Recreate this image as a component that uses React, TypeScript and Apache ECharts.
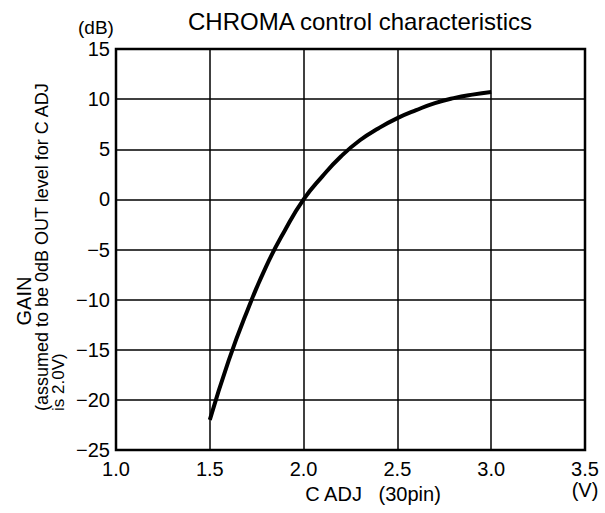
import React, { useEffect, useRef } from "react";
import * as echarts from "echarts";

const xValues = [1.5, 1.6, 1.7, 1.8, 1.9, 2.0, 2.1, 2.2, 2.3, 2.4, 2.5, 2.6, 2.7, 2.8, 2.9, 3.0];
const gainValues = [-22, -16.1, -11.1, -6.7, -3.1, 0, 2.3, 4.3, 5.9, 7.1, 8.1, 8.9, 9.6, 10.1, 10.45, 10.7];
const titleText = "CHROMA control characteristics";
const xName = "C ADJ   (30pin)";
const yNameLines = ["GAIN", "(assumed to be 0dB OUT level for C ADJ", "is 2.0V)"];

const FONT = "'Liberation Sans', Arial, Helvetica, sans-serif";

export default function App() {
  const ref = useRef<HTMLDivElement>(null);
  useEffect(() => {
    if (!ref.current) return;
    const chart = echarts.init(ref.current, null, { renderer: "svg" });
    chart.setOption({
      animation: false,
      backgroundColor: "#fff",
      title: {
        text: titleText,
        left: 183,
        top: 4,
        textStyle: { fontFamily: FONT, fontSize: 24, fontWeight: "normal", color: "#000" },
      },
      grid: {
        left: 116,
        right: 20,
        top: 49,
        bottom: 63,
        show: true,
        borderColor: "#000",
        borderWidth: 2.5,
        containLabel: false,
      },
      xAxis: {
        type: "value",
        min: 1,
        max: 3.5,
        interval: 0.5,
        axisLine: { show: false },
        axisTick: { show: false },
        splitLine: { show: true, lineStyle: { color: "#000", width: 1.5 } },
        axisLabel: {
          color: "#000",
          fontFamily: FONT,
          fontSize: 20,
          margin: 8,
          lineHeight: 21,
          formatter: (v: number) => (v === 3.5 ? "3.5\n(V)" : v.toFixed(1)),
        },
      },
      yAxis: {
        type: "value",
        min: -25,
        max: 15,
        interval: 5,
        axisLine: { show: false },
        axisTick: { show: false },
        splitLine: { show: true, lineStyle: { color: "#000", width: 1.5 } },
        axisLabel: {
          color: "#000",
          fontFamily: FONT,
          fontSize: 20,
          margin: 6,
          formatter: (v: number) => (v < 0 ? "\u2212" + Math.abs(v) : String(v)),
        },
      },
      series: [
        {
          type: "line",
          data: xValues.map((x, i) => [x, gainValues[i]]),
          smooth: true,
          symbol: "none",
          lineStyle: { color: "#000", width: 4 },
        },
      ],
      graphic: [
        {
          type: "text",
          left: 78,
          top: 18,
          style: { text: "(dB)", font: `19px ${FONT}`, fill: "#000" },
        },
        {
          type: "text",
          x: 373,
          y: 494,
          style: { text: xName, font: `20px ${FONT}`, fill: "#000", textAlign: "center", textVerticalAlign: "middle" },
        },
        {
          type: "text",
          x: 24,
          y: 301,
          rotation: Math.PI / 2,
          style: { text: yNameLines[0], font: `20px ${FONT}`, fill: "#000", textAlign: "center", textVerticalAlign: "middle" },
        },
        {
          type: "text",
          x: 42,
          y: 411,
          rotation: Math.PI / 2,
          style: { text: yNameLines[1], font: `18px ${FONT}`, fill: "#000", textAlign: "left", textVerticalAlign: "middle" },
        },
        {
          type: "text",
          x: 58,
          y: 411,
          rotation: Math.PI / 2,
          style: { text: yNameLines[2], font: `17px ${FONT}`, fill: "#000", textAlign: "left", textVerticalAlign: "middle" },
        },
      ],
    });
    return () => chart.dispose();
  }, []);
  return <div ref={ref} style={{ width: 605, height: 513, position: "absolute", left: 0, top: 0 }} />;
}
